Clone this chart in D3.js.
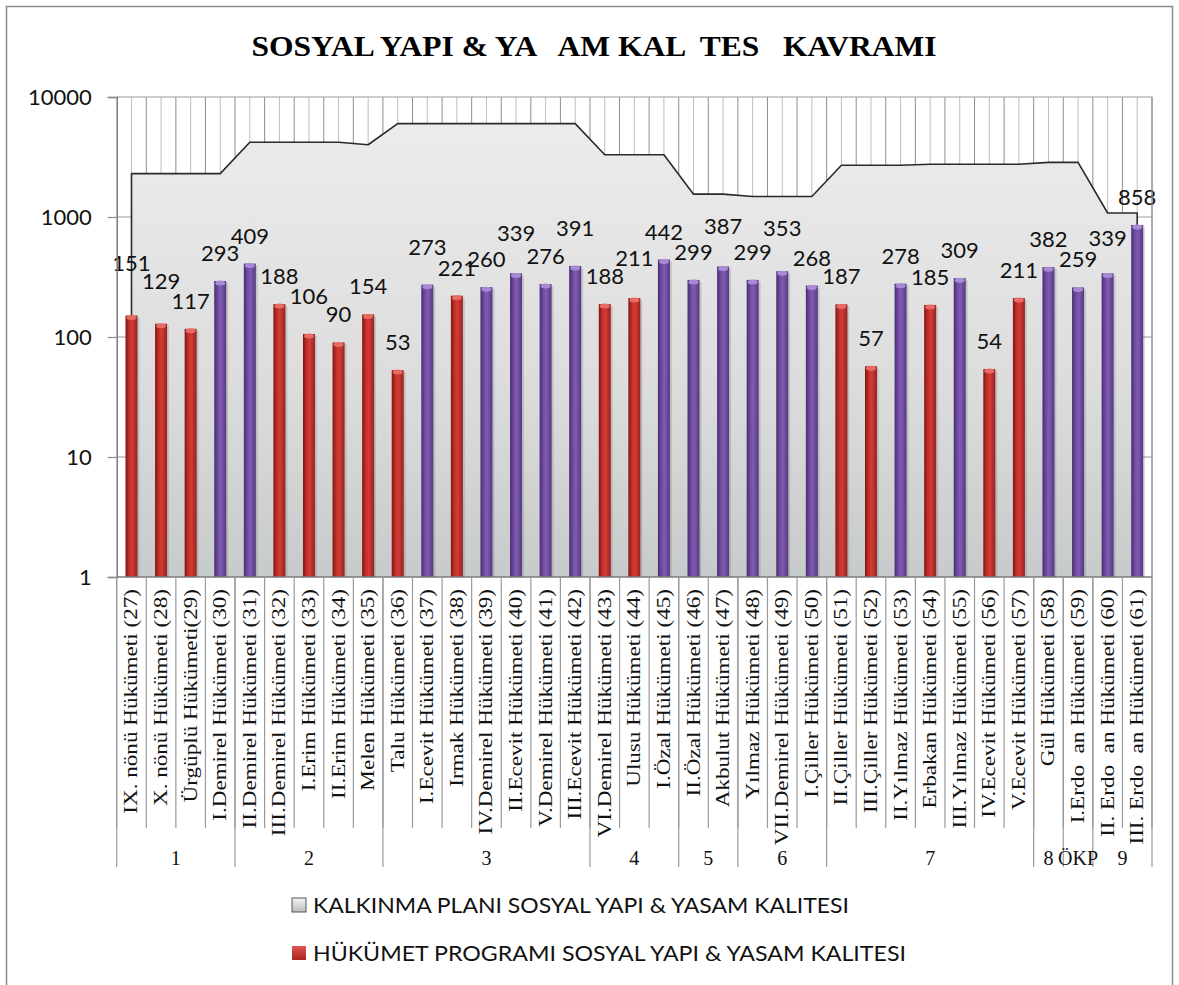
<!DOCTYPE html>
<html>
<head>
<meta charset="utf-8">
<script src="https://cdn.jsdelivr.net/npm/d3@7/dist/d3.min.js"></script>
<style>
  html, body { margin: 0; padding: 0; background: #fff; }
  svg text { white-space: pre; }
</style>
</head>
<body>
<div id="chart"></div>
<script>
// government names (category axis)
const categories = [
  'IX. nönü Hükümeti (27)', 'X. nönü Hükümeti (28)', 'Ürgüplü Hükümeti(29)', 'I.Demirel Hükümeti (30)',
  'II.Demirel Hükümeti (31)', 'III.Demirel Hükümeti (32)', 'I.Erim Hükümeti (33)', 'II.Erim Hükümeti (34)',
  'Melen Hükümeti (35)', 'Talu Hükümeti (36)', 'I.Ecevit Hükümeti (37)', 'Irmak Hükümeti (38)',
  'IV.Demirel Hükümeti (39)', 'II.Ecevit Hükümeti (40)', 'V.Demirel Hükümeti (41)', 'III.Ecevit Hükümeti (42)',
  'VI.Demirel Hükümeti (43)', 'Ulusu Hükümeti (44)', 'I.Özal Hükümeti (45)', 'II.Özal Hükümeti (46)',
  'Akbulut Hükümeti (47)', 'Yılmaz Hükümeti (48)', 'VII.Demirel Hükümeti (49)', 'I.Çiller Hükümeti (50)',
  'II.Çiller Hükümeti (51)', 'III.Çiller Hükümeti (52)', 'II.Yılmaz Hükümeti (53)', 'Erbakan Hükümeti (54)',
  'III.Yılmaz Hükümeti (55)', 'IV.Ecevit Hükümeti (56)', 'V.Ecevit Hükümeti (57)', 'Gül Hükümeti (58)',
  'I.Erdo  an Hükümeti (59)', 'II. Erdo  an Hükümeti (60)', 'III. Erdo  an Hükümeti (61)'
];

// HÜKÜMET PROGRAMI values (bars)
const programValues = [151, 129, 117, 293, 409, 188, 106, 90, 154, 53, 273, 221, 260, 339, 276, 391,
  188, 211, 442, 299, 387, 299, 353, 268, 187, 57, 278, 185, 309, 54, 211, 382, 259, 339, 858];

// KALKINMA PLANI values (area)
const planValues = [2300, 2300, 2300, 2300, 4200, 4200, 4200, 4200, 4000,
  6000, 6000, 6000, 6000, 6000, 6000, 6000, 3300, 3300, 3300, 1550, 1550,
  1480, 1480, 1480, 2700, 2700, 2700, 2750, 2750, 2750, 2750, 2850, 2850, 1080, 1080];

// plan periods (second row of the category axis)
const groupLabels = ['1', '2', '3', '4', '5', '6', '7', '8', 'ÖKP', '9'];
const groupSizes = [4, 5, 7, 3, 2, 3, 7, 1, 1, 2];

const yTicks = [1, 10, 100, 1000, 10000];

const title = 'SOSYAL YAPI & YA   AM KAL  TES   KAVRAMI';
const legendLabels = ['KALKINMA PLANI SOSYAL YAPI & YASAM KALITESI', 'HÜKÜMET PROGRAMI SOSYAL YAPI & YASAM KALITESI'];

// bars above this get the purple colour
const purpleFrom = 250;
// manual label nudges (px above the default spot)
const labelLift = {0: 25, 1: 15, 6: 10, 10: 10, 13: 12, 15: 10, 17: 12, 20: 12, 22: 15, 33: 7};

const W = 1179, H = 985;
const plot = {left: 116.7, right: 1152, top: 97, bottom: 577};
const sansFont = 'Lato, "Open Sans", sans-serif';
const serifFont = '"Liberation Serif", "DejaVu Serif", serif';

const svg = d3.select('#chart').append('svg')
  .attr('width', W).attr('height', H)
  .attr('viewBox', `0 0 ${W} ${H}`);

const defs = svg.append('defs');

const areaGrad = defs.append('linearGradient').attr('id', 'areaGrad')
  .attr('x1', 0).attr('y1', 0).attr('x2', 0).attr('y2', 1);
areaGrad.append('stop').attr('offset', '0%').attr('stop-color', '#ececec');
areaGrad.append('stop').attr('offset', '55%').attr('stop-color', '#dddddd');
areaGrad.append('stop').attr('offset', '100%').attr('stop-color', '#c8cbcb');

function barGradient(id, stops) {
  const g = defs.append('linearGradient').attr('id', id)
    .attr('x1', 0).attr('y1', 0).attr('x2', 1).attr('y2', 0);
  stops.forEach(([o, c]) => g.append('stop').attr('offset', o).attr('stop-color', c));
}
barGradient('redGrad', [['0%', '#7e1614'], ['30%', '#c22e2a'], ['55%', '#d23c36'], ['100%', '#962220']]);
barGradient('purpleGrad', [['0%', '#4a2c72'], ['35%', '#7350a6'], ['55%', '#7e5cb2'], ['100%', '#56387f']]);

const legendGray = defs.append('linearGradient').attr('id', 'legendGray')
  .attr('x1', 0).attr('y1', 0).attr('x2', 0).attr('y2', 1);
legendGray.append('stop').attr('offset', '0%').attr('stop-color', '#f4f4f4');
legendGray.append('stop').attr('offset', '100%').attr('stop-color', '#bdbdbd');

const legendRed = defs.append('linearGradient').attr('id', 'legendRed')
  .attr('x1', 0).attr('y1', 0).attr('x2', 0).attr('y2', 1);
legendRed.append('stop').attr('offset', '0%').attr('stop-color', '#e05550');
legendRed.append('stop').attr('offset', '100%').attr('stop-color', '#a82522');

// outer chart border
svg.append('rect')
  .attr('x', 6.5).attr('y', 6.5).attr('width', W - 13).attr('height', H)
  .attr('fill', '#fff').attr('stroke', '#8c8c8c').attr('stroke-width', 1.5);

// title
svg.append('text')
  .attr('x', 594).attr('y', 56)
  .attr('text-anchor', 'middle')
  .attr('font-family', serifFont).attr('font-weight', 'bold').attr('font-size', 29)
  .attr('textLength', 685).attr('lengthAdjust', 'spacingAndGlyphs')
  .text(title);

const x = d3.scaleBand()
  .domain(d3.range(categories.length))
  .range([plot.left, plot.right]);
const bw = x.bandwidth();
const cx = i => x(i) + bw / 2;

const y = d3.scaleLog()
  .domain([1, 10000])
  .range([plot.bottom, plot.top]);

const g = svg.append('g');

// vertical hatch lines (boundaries darker, centres lighter)
g.append('g').selectAll('line')
  .data(d3.range(1, categories.length * 2 + 1))
  .join('line')
  .attr('x1', k => plot.left + k * bw / 2).attr('x2', k => plot.left + k * bw / 2)
  .attr('y1', plot.top).attr('y2', plot.bottom)
  .attr('stroke', k => k % 2 === 0 ? '#8e8e8e' : '#bdbdbd')
  .attr('stroke-width', 1);

// horizontal gridlines
g.append('g').selectAll('line')
  .data(yTicks.slice(1, -1))
  .join('line')
  .attr('x1', plot.left).attr('x2', plot.right)
  .attr('y1', d => y(d)).attr('y2', d => y(d))
  .attr('stroke', '#9a9a9a').attr('stroke-width', 1);

// plan area
const area = d3.area()
  .x((d, i) => cx(i))
  .y0(plot.bottom)
  .y1(d => y(d));
g.append('path')
  .datum(planValues)
  .attr('d', area)
  .attr('fill', 'url(#areaGrad)');

const outlinePts = [[cx(0), plot.bottom]]
  .concat(planValues.map((v, i) => [cx(i), y(v)]))
  .concat([[cx(planValues.length - 1), plot.bottom]]);
g.append('path')
  .attr('d', d3.line()(outlinePts))
  .attr('fill', 'none')
  .attr('stroke', '#2a2a2a').attr('stroke-width', 1.6)
  .attr('stroke-linejoin', 'round');

// bars
const barW = 12;
const bars = g.append('g').selectAll('g')
  .data(programValues)
  .join('g');
bars.append('rect')
  .attr('x', (d, i) => cx(i) - barW / 2 + 2)
  .attr('y', d => y(d) + 2)
  .attr('width', barW).attr('height', d => plot.bottom - y(d) - 2)
  .attr('fill', '#000').attr('opacity', 0.12);
bars.append('rect')
  .attr('x', (d, i) => cx(i) - barW / 2)
  .attr('y', d => y(d))
  .attr('width', barW).attr('height', d => plot.bottom - y(d))
  .attr('fill', d => d > purpleFrom ? 'url(#purpleGrad)' : 'url(#redGrad)');
bars.append('ellipse')
  .attr('cx', (d, i) => cx(i))
  .attr('cy', d => y(d) + 2)
  .attr('rx', barW / 2 - 1).attr('ry', 2.5)
  .attr('fill', d => d > purpleFrom ? '#a88ad4' : '#e86a64');

// data labels
g.append('g').selectAll('text')
  .data(programValues)
  .join('text')
  .attr('x', (d, i) => cx(i))
  .attr('y', (d, i) => y(d) - 20 - (labelLift[i] || 0))
  .attr('text-anchor', 'middle')
  .attr('font-family', sansFont).attr('font-size', 22)
  .attr('fill', '#111')
  .text(d => d);

// plot frame: top and right
svg.append('path')
  .attr('d', `M${plot.left},${plot.top}H${plot.right}V${plot.bottom}`)
  .attr('fill', 'none').attr('stroke', '#9a9a9a').attr('stroke-width', 1.2);

// y axis
const yAxis = svg.append('g')
  .attr('transform', `translate(${plot.left},0)`)
  .call(d3.axisLeft(y).tickValues(yTicks).tickFormat(d3.format('d')).tickSize(9).tickPadding(16));
yAxis.select('.domain').attr('stroke', '#7a7a7a').attr('stroke-width', 1.5);
yAxis.selectAll('.tick line').attr('stroke', '#8a8a8a').attr('stroke-width', 1.2);
yAxis.selectAll('.tick text')
  .attr('font-family', sansFont).attr('font-size', 22).attr('fill', '#111');

// x axis line
svg.append('line')
  .attr('x1', plot.left).attr('x2', plot.right)
  .attr('y1', plot.bottom).attr('y2', plot.bottom)
  .attr('stroke', '#7a7a7a').attr('stroke-width', 1.5);

// category separators
const catSepBottom = 828, groupSepBottom = 867;
svg.append('g').selectAll('line')
  .data(d3.range(categories.length + 1))
  .join('line')
  .attr('x1', i => plot.left + i * bw).attr('x2', i => plot.left + i * bw)
  .attr('y1', plot.bottom).attr('y2', catSepBottom)
  .attr('stroke', '#9a9a9a').attr('stroke-width', 1.2);

// category labels (rotated, stretched along the text like the source)
svg.append('g').selectAll('text')
  .data(categories)
  .join('text')
  .attr('transform', (d, i) => `translate(${cx(i) + 6},589) rotate(-90) scale(1.25,1)`)
  .attr('text-anchor', 'end')
  .attr('font-family', serifFont).attr('font-size', 18.5)
  .attr('fill', '#111')
  .text(d => d);

// group separators and labels
const groupStarts = groupSizes.map((s, k) => d3.sum(groupSizes.slice(0, k)));
const groupEdges = groupStarts.concat([categories.length]);
svg.append('g').selectAll('line')
  .data(groupEdges)
  .join('line')
  .attr('x1', i => plot.left + i * bw).attr('x2', i => plot.left + i * bw)
  .attr('y1', plot.bottom).attr('y2', groupSepBottom)
  .attr('stroke', '#9a9a9a').attr('stroke-width', 1.2);
svg.append('g').selectAll('text')
  .data(groupLabels)
  .join('text')
  .attr('x', (d, k) => plot.left + (groupStarts[k] + groupSizes[k] / 2) * bw)
  .attr('y', 865)
  .attr('text-anchor', 'middle')
  .attr('font-family', serifFont).attr('font-size', 20)
  .attr('fill', '#111')
  .text(d => d);

// legend
const legendY = [905, 953];
const legendFills = ['url(#legendGray)', 'url(#legendRed)'];
const legendStroke = ['#555', 'none'];
const legendWidths = [536, 593];
const legend = svg.append('g').selectAll('g')
  .data(legendLabels)
  .join('g');
legend.append('rect')
  .attr('x', 292).attr('y', (d, i) => legendY[i] - 7)
  .attr('width', 14).attr('height', 14)
  .attr('fill', (d, i) => legendFills[i])
  .attr('stroke', (d, i) => legendStroke[i]).attr('stroke-width', 1);
legend.append('text')
  .attr('x', 313).attr('y', (d, i) => legendY[i] + 8)
  .attr('font-family', sansFont).attr('font-size', 22)
  .attr('textLength', (d, i) => legendWidths[i]).attr('lengthAdjust', 'spacingAndGlyphs')
  .attr('fill', '#111')
  .text(d => d);
</script>
</body>
</html>
